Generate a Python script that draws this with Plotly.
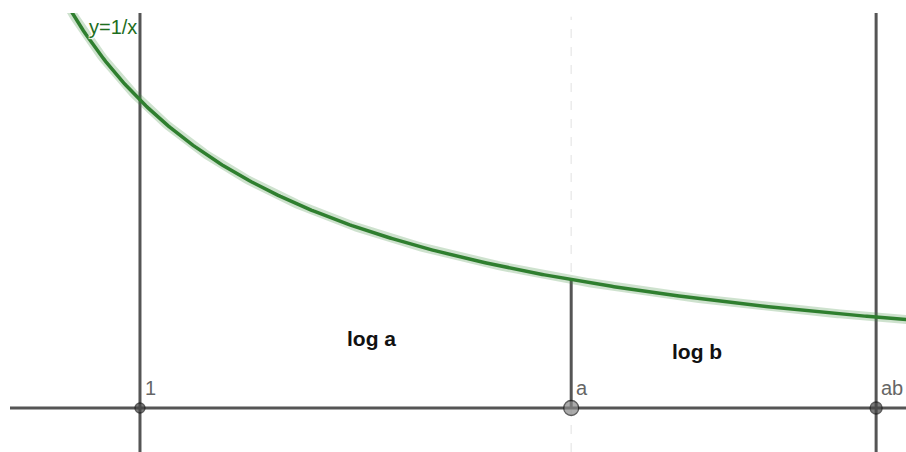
import numpy as np
import plotly.graph_objects as go

# Key x positions on the axis
point_labels = ["1", "a", "ab"]
point_x = [1.0, 2.4, 3.39]

# Area labels
area_labels = ["log a", "log b"]
area_label_x = [1.753, 2.808]
area_label_y = [0.227, 0.185]

# Curve domain
curve_x = np.linspace(0.70, 3.6, 400)
curve_y = 1.0 / curve_x

x_range = [0.578, 3.487]
y_range = [-0.1429, 1.2825]

line_col = "#555555"
font_fam = "Liberation Sans, Arial, sans-serif"

fig = go.Figure()

# faint dashed guide through a
fig.add_trace(go.Scatter(x=[point_x[1], point_x[1]], y=[y_range[0], y_range[1] - 0.012],
                         mode="lines", line=dict(color="#ebebeb", width=1.5, dash="dash"),
                         hoverinfo="skip", showlegend=False))

# x-axis line
fig.add_trace(go.Scatter(x=[x_range[0], x_range[1]], y=[0, 0], mode="lines",
                         line=dict(color=line_col, width=3), hoverinfo="skip", showlegend=False))

# full vertical lines at 1 and ab
for xv in (point_x[0], point_x[2]):
    fig.add_trace(go.Scatter(x=[xv, xv], y=[y_range[0] - 1, y_range[1] + 1], mode="lines",
                             line=dict(color=line_col, width=3), hoverinfo="skip", showlegend=False))

# segment from a up to the curve
fig.add_trace(go.Scatter(x=[point_x[1], point_x[1]], y=[0, 1.0 / point_x[1]], mode="lines",
                         line=dict(color=line_col, width=3), hoverinfo="skip", showlegend=False))

# curve halo and curve
fig.add_trace(go.Scatter(x=curve_x, y=curve_y, mode="lines",
                         line=dict(color="rgba(60,140,60,0.25)", width=9),
                         hoverinfo="skip", showlegend=False))
fig.add_trace(go.Scatter(x=curve_x, y=curve_y, mode="lines",
                         line=dict(color="#2f7f2f", width=3.5),
                         hoverinfo="skip", showlegend=False))

# points on the axis
fig.add_trace(go.Scatter(x=point_x, y=[0, 0, 0], mode="markers",
                         marker=dict(size=[10, 15, 12], color=["#444444", "#888888", "#444444"],
                                     line=dict(color="#1a1a1a", width=1.3)),
                         hoverinfo="skip", showlegend=False))

# point labels
for lbl, xv in zip(point_labels, point_x):
    fig.add_annotation(x=xv, y=0, text=lbl, showarrow=False, xanchor="left", yanchor="bottom",
                       xshift=3, yshift=7, font=dict(family=font_fam, size=20, color="#666666"))

# curve label
fig.add_annotation(x=0.828, y=1.237, text="y=1/x", showarrow=False, xanchor="left", yanchor="middle",
                   font=dict(family=font_fam, size=20, color="#1e6e1e",
                             shadow="1px 1px 1px white, -1px -1px 1px white, 1px -1px 1px white, -1px 1px 1px white"))

# area labels
for lbl, xv, yv in zip(area_labels, area_label_x, area_label_y):
    fig.add_annotation(x=xv, y=yv, text=f"<b>{lbl}</b>", showarrow=False,
                       font=dict(family=font_fam, size=21, color="#111111"))

fig.update_xaxes(range=x_range, visible=False, showgrid=False, zeroline=False)
fig.update_yaxes(range=y_range, visible=False, showgrid=False, zeroline=False)
fig.update_layout(width=906, height=452, margin=dict(l=10, r=0, t=13, b=0),
                  paper_bgcolor="white", plot_bgcolor="white")

fig.write_html("out.html")
